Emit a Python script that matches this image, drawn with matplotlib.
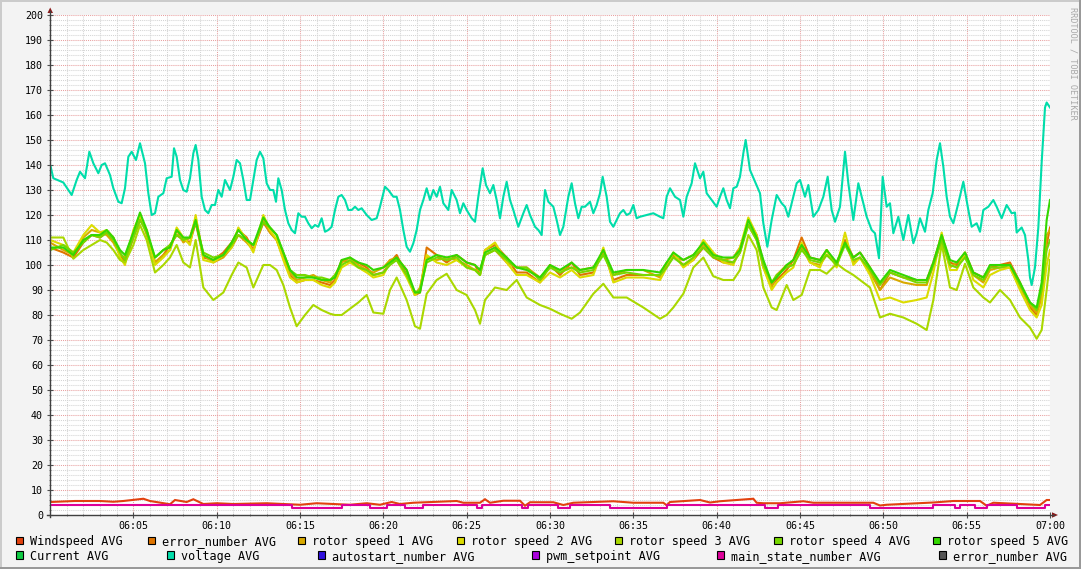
import matplotlib
matplotlib.use("Agg")
import matplotlib.pyplot as plt
from matplotlib.patches import Rectangle, Polygon
from matplotlib.lines import Line2D

# ---------------- data (time in minutes after 06:00) ----------------
x_tick_minutes = [5, 10, 15, 20, 25, 30, 35, 40, 45, 50, 55, 60]
x_tick_labels = ["06:05", "06:10", "06:15", "06:20", "06:25", "06:30",
                 "06:35", "06:40", "06:45", "06:50", "06:55", "07:00"]

legend_names = ["Windspeed AVG", "error_number AVG", "rotor speed 1 AVG",
                "rotor speed 2 AVG", "rotor speed 3 AVG", "rotor speed 4 AVG",
                "rotor speed 5 AVG", "Current AVG", "voltage AVG",
                "autostart_number AVG", "pwm_setpoint AVG",
                "main_state_number AVG", "error_number AVG"]
legend_colors = ["#E2410E", "#DF7400", "#D8A900", "#DCDC00", "#AAD800",
                 "#77D800", "#33D800", "#10CC44", "#00DDAA", "#3010DD",
                 "#AA00DD", "#DD0099", "#555555"]

# voltage
volt_t = [0.04, 0.2, 0.8, 1.3, 1.6, 1.8, 2.1, 2.36, 2.6, 2.9, 3.1, 3.3, 3.6, 3.8, 4.1, 4.3, 4.5, 4.7, 4.9, 5.16,
          5.4, 5.7, 5.9, 6.1, 6.3, 6.5, 6.8, 7.0, 7.3, 7.44, 7.6, 7.8, 8.0, 8.2, 8.4, 8.6, 8.74, 8.9, 9.1, 9.3,
          9.5, 9.7, 9.9, 10.1, 10.3, 10.5, 10.8, 11.0, 11.2, 11.4, 11.6, 11.8, 12.0, 12.2, 12.4, 12.6, 12.8, 13.0,
          13.2, 13.4, 13.56, 13.7, 13.9, 14.1, 14.3, 14.5, 14.7, 14.9, 15.1, 15.3, 15.5, 15.7, 15.9, 16.1, 16.3,
          16.5, 16.7, 16.9, 17.1, 17.3, 17.5, 17.7, 17.9, 18.1, 18.3, 18.5, 18.7, 19.0, 19.2,
          19.3, 19.6, 19.8, 20.1, 20.3, 20.6, 20.8, 21.0, 21.2, 21.4, 21.6, 21.8, 22.0, 22.2, 22.4, 22.6, 22.8,
          23.0, 23.2, 23.4, 23.6, 23.9, 24.1, 24.4, 24.6, 24.8, 25.0, 25.3, 25.5, 25.7, 25.96, 26.16, 26.4, 26.6,
          26.8, 27.0, 27.2, 27.4, 27.6, 27.8, 28.1, 28.4, 28.6, 28.8, 29.1, 29.3, 29.5, 29.7, 29.9, 30.2, 30.4,
          30.6, 30.8, 31.1, 31.3, 31.5, 31.7, 31.9, 32.1, 32.4, 32.6, 32.8, 33.0, 33.16, 33.4, 33.6, 33.8, 34.0,
          34.2, 34.4, 34.6, 34.8, 35.0, 35.2, 35.4, 35.8, 36.2, 36.6, 36.8, 37.0, 37.2, 37.5, 37.8, 38.0, 38.2,
          38.5, 38.7,
          39.0, 39.2, 39.4, 39.7, 40.0, 40.2, 40.4, 40.6, 40.8, 41.0, 41.2, 41.4, 41.6, 41.74, 42.0, 42.3, 42.6,
          42.8, 43.04, 43.3, 43.6, 43.9, 44.1, 44.3, 44.6, 44.8, 45.0, 45.3, 45.5, 45.8, 46.1, 46.4, 46.66, 46.9,
          47.1, 47.4, 47.7, 47.9, 48.2, 48.5, 48.8, 49.0, 49.3, 49.5, 49.74, 49.96, 50.2, 50.4, 50.6, 50.9, 51.2,
          51.5, 51.8, 52.0, 52.2, 52.5, 52.7, 52.96, 53.2, 53.4, 53.6, 53.8, 54.0, 54.2, 54.5, 54.8, 55.1, 55.3,
          55.6, 55.8, 56.0, 56.3, 56.6, 56.8, 57.1, 57.4, 57.7, 57.9, 58.0, 58.3, 58.5, 58.7, 58.8, 58.9, 59.1,
          59.3, 59.5, 59.7, 59.8, 60.0]
volt_v = [139.3, 134.7, 133, 128, 134, 137.3, 134.7, 145.3, 140.7, 136.7, 140, 140.7, 136, 130.7, 125.3, 124.7,
          130.7, 143.3, 145.3, 142, 148.7, 140.7, 128.7, 120, 120.7, 127.3, 128.7, 134.7, 135.3, 146.7, 143.3,
          134, 130, 129.3, 134.7, 144.7, 148, 142, 127.3, 122, 120.7, 124, 124, 130, 127.3, 134, 130, 135.3, 142,
          140.7, 134, 126, 126, 134, 142, 145.3, 142.7, 132.7, 130, 130, 125.3, 134.7, 130, 122, 116.7, 114,
          112.7, 120.7, 119.3, 119.3, 116.7, 114.7, 116, 115.3, 118.7, 113.3, 114, 115.3, 122, 127.3, 128, 126,
          122, 122, 123.3, 122, 122.7, 120, 118.7,
          118, 118.7, 123.3, 131.3, 130, 127.3, 127.3, 122, 114, 107.3, 105.3, 108.7, 114, 122, 126, 130.7, 126,
          130, 127.3, 131.3, 124.7, 122, 130, 126, 120.7, 124.7, 122, 118.7, 117.3, 127.3, 138.7, 132, 128.7,
          132, 126, 118.7, 127.3, 133.3, 126, 122, 115.3, 120.7, 124, 120, 115.3, 114, 112, 130, 125.3, 123.3,
          118, 112, 115.3, 127.3, 132.7, 124.7, 118.7, 123.3, 123.3, 125.3, 120.7, 124, 128.7, 135.3, 127.3,
          117.3, 115.3, 118, 120.7, 122, 120, 120.7, 124, 118.7, 119.3, 120, 120.7, 119.3, 118.7, 127.3, 130.7,
          127.3, 126, 119.3, 127.3, 132.7, 140.7,
          134.7, 137.3, 128.7, 126, 123.3, 127.3, 130.7, 126, 122.7, 130.7, 131.3, 135.3, 144.7, 150, 138, 133.3,
          128.7, 116.7, 107.3, 118, 128, 124.7, 123.3, 119.3, 127.3, 132.7, 134, 127.3, 132, 119.3, 122, 127.3,
          135.3, 122, 117.3, 123.3, 145.3, 132.7, 118, 132.7, 124.7, 119.3, 114, 112.7, 102.7, 135.3, 123.3,
          124.7, 112.7, 119.3, 110, 120, 108.7, 112.7, 118.7, 113.3, 122, 128.7, 142, 148.7, 139.3, 127.3, 119.3,
          116.7, 124.7, 133.3, 122, 115.3, 116.7, 113.3, 122, 123.3, 126, 123.3, 118.7, 124, 120.7, 121, 113,
          115, 112, 102, 95, 92, 99, 115, 141, 163, 165, 163]

# rotor speeds / error_number share one time base
rot_t = [0, 0.8, 1.4, 2.0, 2.5, 3.0, 3.4, 3.8, 4.2, 4.5,
         5.0, 5.4, 5.8, 6.3, 6.8, 7.2, 7.6, 8.0, 8.4, 8.74,
         9.2, 9.8, 10.4, 10.9, 11.3, 11.8, 12.2, 12.8, 13.2, 13.6,
         14.0, 14.4, 14.8, 15.3, 15.8, 16.3, 16.8, 17.1, 17.5, 18.0,
         18.5, 19.0, 19.4, 20.0, 20.4, 20.8, 21.4, 21.9, 22.2, 22.6,
         23.2, 23.8, 24.4, 25.0, 25.5, 25.8, 26.1, 26.7, 27.4, 28.0,
         28.6, 29.4, 30.0, 30.6, 31.3, 31.8, 32.6, 33.2, 33.8, 34.6,
         35.6, 36.6, 37.0, 37.4, 38.0, 38.6, 39.2, 39.8, 40.4, 41.0,
         41.4, 41.9, 42.4, 42.8, 43.3, 43.6, 44.2, 44.6, 45.1, 45.6,
         46.2, 46.6, 47.2, 47.7, 48.2, 48.6, 49.2, 49.8, 50.4, 51.2,
         52.0, 52.6, 53.0, 53.5, 54.0, 54.4, 54.9, 55.4, 56.0, 56.4,
         57.0, 57.6, 58.2, 58.8, 59.2, 59.5, 59.8, 60.0]
error_v = [107, 105, 103, 109, 112, 111, 113, 111, 104, 101,
           111, 118, 114, 101, 104, 108, 112, 110, 109, 117,
           103, 102, 105, 109, 114, 111, 106, 117, 113, 110,
           103, 96, 93, 94, 94, 93, 92, 94, 102, 101,
           101, 99, 96, 97, 101, 104, 96, 88, 89, 107,
           104, 101, 104, 101, 100, 96, 106, 108, 103, 97,
           97, 93, 100, 96, 101, 96, 97, 106, 94, 96,
           96, 96, 100, 104, 100, 102, 107, 103, 101, 101,
           105, 118, 112, 101, 92, 94, 98, 102, 111, 103,
           102, 106, 100, 110, 103, 105, 99, 90, 97, 95,
           94, 94, 101, 112, 101, 100, 105, 97, 95, 99,
           100, 101, 93, 83, 80, 88, 108, 115]
rotor1_v = [109, 106, 104, 111, 114, 113, 112, 109, 104, 103,
            113, 120, 112, 101, 104, 106, 114, 109, 111, 119,
            104, 101, 103, 107, 112, 109, 106, 118, 113, 110,
            103, 97, 94, 95, 96, 94, 93, 96, 101, 103,
            100, 98, 97, 99, 102, 103, 98, 88, 91, 103,
            102, 103, 102, 100, 98, 98, 104, 106, 101, 99,
            99, 95, 99, 98, 99, 98, 99, 105, 96, 98,
            98, 95, 101, 103, 102, 104, 108, 104, 102, 103,
            107, 116, 110, 99, 91, 96, 100, 100, 107, 101,
            100, 104, 101, 109, 101, 103, 97, 90, 95, 93,
            92, 92, 100, 110, 99, 101, 104, 96, 93, 98,
            99, 99, 91, 84, 81, 87, 112, 114]
rotor2_v = [110, 108, 105, 112, 116, 113, 114, 111, 103, 100,
            114, 120, 114, 100, 103, 106, 115, 111, 108, 120,
            102, 101, 104, 107, 115, 110, 105, 120, 114, 110,
            102, 95, 93, 94, 94, 92, 91, 93, 99, 101,
            99, 97, 95, 96, 101, 102, 95, 88, 90, 104,
            101, 100, 102, 99, 98, 96, 106, 109, 101, 96,
            96, 93, 97, 95, 98, 95, 96, 107, 93, 95,
            95, 94, 99, 105, 99, 102, 110, 105, 101, 100,
            107, 119, 112, 99, 90, 93, 97, 99, 109, 101,
            99, 106, 99, 113, 100, 103, 96, 86, 87, 85,
            86, 87, 97, 113, 98, 98, 105, 94, 91, 96,
            98, 99, 90, 82, 79, 84, 100, 106]
rotor3_v = [111, 111, 102.5, 106, 108, 110, 109, 106, 102, 101,
            108, 116, 110, 97, 100, 103, 108, 101, 99, 110,
            91, 86, 89, 96, 101, 99, 91, 100, 100, 98,
            92, 83, 75.5, 80, 84, 82, 80.5, 80, 80, 82.5,
            85, 88, 81, 80.5, 90, 95, 86, 75.5, 74.5, 88.5,
            94, 96.5, 90, 88, 82, 76.5, 86, 91, 90, 94,
            87, 84, 82.5, 80.5, 78.5, 81, 88.5, 92.5, 87, 87,
            83, 78.5, 80, 83, 88.5, 99, 103, 95.5, 94, 94,
            98, 112, 106, 91, 83, 82, 92, 86, 88, 98,
            98, 96.5, 100.5, 98, 96, 94, 91, 79, 80.5, 79,
            76.5, 74, 86, 108.5, 91, 90, 100.5, 91, 87, 85,
            90, 86, 79, 75, 70.5, 74, 90, 102]
rotor4_v = [106, 108, 105, 109, 112, 111, 113, 110, 105, 102,
            111, 118, 113, 103, 106, 108, 112, 110, 111, 117,
            105, 103, 104, 108, 112, 110, 108, 117, 115, 112,
            105, 98, 96, 96, 95, 95, 94, 96, 100, 102,
            99, 98, 96, 97, 100, 102, 96, 89, 90, 101,
            103, 102, 103, 99, 98, 96, 104, 106, 102, 99,
            99, 94, 99, 97, 99, 97, 98, 104, 96, 97,
            96, 96, 99, 103, 100, 103, 107, 103, 102, 101,
            105, 116, 110, 100, 93, 96, 99, 100, 106, 102,
            101, 104, 100, 108, 102, 103, 98, 92, 97, 95,
            93, 93, 100, 110, 100, 99, 103, 96, 94, 99,
            99, 100, 92, 85, 82, 90, 106, 110]
rotor5_v = [107, 107, 104, 110, 112, 112, 114, 111, 106, 104,
            113, 121, 114, 103, 106, 107, 114, 111, 111, 118,
            104, 102, 104, 109, 114, 110, 108, 119, 115, 112,
            105, 98, 95, 95, 95, 94, 94, 95, 102, 103,
            101, 100, 98, 99, 101, 103, 98, 89, 89, 102,
            104, 103, 104, 101, 100, 98, 105, 107, 103, 99,
            98, 95, 100, 98, 101, 98, 99, 106, 97, 98,
            98, 97, 101, 105, 102, 104, 109, 104, 103, 103,
            106, 118, 111, 102, 93, 95, 100, 102, 108, 103,
            102, 106, 101, 109, 103, 105, 99, 93, 98, 96,
            94, 94, 101, 112, 102, 101, 105, 97, 95, 100,
            100, 100, 93, 85, 83, 93, 118, 126]

# windspeed
wind_t = [0, 1.5, 3.0, 3.8, 4.4, 5.6, 6.0, 7.2, 7.5, 8.2, 8.6, 9.2, 10.0, 11.0, 13.0, 15.0, 16.0, 18.0, 19.0,
          19.8, 20.5, 21.0, 21.8, 24.4, 24.8, 25.8, 26.1, 26.4, 27.2, 28.2, 28.5, 28.8, 30.2, 30.8, 31.4, 33.8,
          35.0, 36.8, 37.0, 37.2, 39.0, 39.6, 40.2, 42.2, 42.4, 42.8, 43.8, 45.2, 45.8, 46.2, 49.4, 49.8, 50.2,
          53.0, 54.2, 55.8, 56.2, 56.6, 58.2, 59.4, 59.8, 60.0]
wind_v = [5.2, 5.6, 5.6, 5.3, 5.6, 6.5, 5.6, 4.3, 6.0, 5.2, 6.3, 4.4, 4.7, 4.4, 4.7, 4.1, 4.7, 4.1, 4.7,
          4.1, 5.2, 4.4, 4.9, 5.6, 4.9, 4.9, 6.3, 4.9, 5.7, 5.7, 3.7, 5.1, 5.1, 4.0, 4.9, 5.5,
          4.9, 4.9, 3.9, 5.2, 6.0, 5.0, 5.5, 6.5, 4.9, 4.7, 4.7, 5.5, 4.9, 4.9, 4.9, 3.8, 4.1,
          5.0, 5.6, 5.6, 3.7, 4.9, 4.4, 4.0, 6.0, 6.0]

# main state number (step series)
state_t = [0, 14.5, 17.5, 19.2, 20.2, 21.3, 22.4, 25.6, 25.9, 28.3, 28.7, 30.5, 31.2, 33.6, 37.0, 42.9, 43.7,
           49.2, 53.0, 54.3, 54.6, 55.5, 56.2, 58.0, 59.7, 60.0]
state_v = [4, 3, 4, 3, 4, 3, 4, 3, 4, 3, 4, 3, 4, 3, 4, 3, 4,
           3, 4, 3, 4, 3, 4, 3, 4, 4]

# ---------------- figure ----------------
W, H = 1081, 569
fig = plt.figure(figsize=(W / 100, H / 100), dpi=100, facecolor="#f3f3f3")
plt.rcParams["font.family"] = ["DejaVu Sans Mono", "DejaVu Sans"]


def fx(px):
    return px / W


def fy(py):
    return 1 - py / H


# bevel frame
fig.add_artist(Rectangle((0, 1 - 2 / H), 1, 2 / H, transform=fig.transFigure, color="#cbcbcb", lw=0))
fig.add_artist(Rectangle((0, 0), 2 / W, 1, transform=fig.transFigure, color="#cbcbcb", lw=0))
fig.add_artist(Rectangle((0, 0), 1, 2 / H, transform=fig.transFigure, color="#999999", lw=0))
fig.add_artist(Rectangle((1 - 2 / W, 0), 2 / W, 1, transform=fig.transFigure, color="#999999", lw=0))

ax = fig.add_axes([fx(50), fy(515), fx(1050) - fx(50), fy(15) - fy(515)])
ax.set_facecolor("white")
ax.set_xlim(0, 60)
ax.set_ylim(0, 200)
ax.set_axisbelow(True)

ax.set_xticks(x_tick_minutes)
ax.set_xticklabels(x_tick_labels)
ax.set_xticks(range(0, 61), minor=True)
ax.set_yticks(range(0, 201, 10))
ax.set_yticks(range(0, 201, 2), minor=True)
ax.grid(which="minor", color="#d4d4d4", linestyle=(0, (1, 1)), linewidth=0.75)
ax.grid(which="major", color="#e8a0a0", linestyle=(0, (1, 1)), linewidth=0.75)
ax.tick_params(which="major", direction="inout", length=4, width=0.8, color="#505050",
               labelsize=7.2, labelcolor="#000000")
ax.tick_params(which="minor", direction="inout", length=2, width=0.6, color="#707070")
ax.tick_params(axis="y", pad=3)
ax.tick_params(axis="x", pad=2)
for s in ax.spines.values():
    s.set_visible(False)

lw = 1.5
ax.plot(wind_t, wind_v, color="#E2410E", lw=lw, solid_joinstyle="miter")
ax.plot(rot_t, error_v, color="#DF7400", lw=lw)
ax.plot(rot_t, rotor1_v, color="#D8A900", lw=lw)
ax.plot(rot_t, rotor2_v, color="#DCDC00", lw=lw)
ax.plot(rot_t, rotor3_v, color="#AAD800", lw=lw)
ax.plot(rot_t, rotor4_v, color="#77D800", lw=lw)
ax.plot(rot_t, rotor5_v, color="#33D800", lw=lw)
ax.plot(volt_t, volt_v, color="#00DDAA", lw=lw)
ax.step(state_t, state_v, where="post", color="#DD0099", lw=lw)

# axis lines with arrows
axis_col = "#404040"
arrow_col = "#8b1a1a"
fig.add_artist(Line2D([fx(50), fx(50)], [fy(517), fy(11)], color=axis_col, lw=1, transform=fig.transFigure))
fig.add_artist(Line2D([fx(47), fx(1054)], [fy(515), fy(515)], color=axis_col, lw=1, transform=fig.transFigure))
fig.add_artist(Polygon([(fx(47.5), fy(13)), (fx(53), fy(13)), (fx(50.2), fy(7.5))], closed=True,
                       transform=fig.transFigure, color=arrow_col, lw=0))
fig.add_artist(Polygon([(fx(1052), fy(512.3)), (fx(1052), fy(517.7)), (fx(1058), fy(515))], closed=True,
                       transform=fig.transFigure, color=arrow_col, lw=0))

# watermark
fig.text(fx(1073), fy(7), "RRDTOOL / TOBI OETIKER", rotation=270, ha="center", va="top",
         fontsize=6.1, color="#a8a8a8")

# legend
row1_x = [15, 147, 297, 456, 614, 774, 932]
row2_x = [15, 166, 317, 531, 716, 938]
rows = [(row1_x, 540.5, legend_names[:7], legend_colors[:7]),
        (row2_x, 555.0, legend_names[7:], legend_colors[7:])]
for xs, yc, names, cols in rows:
    for x0, name, col in zip(xs, names, cols):
        fig.add_artist(Rectangle((fx(x0 + 0.5), fy(yc + 3.8)), 7.5 / W, 7.5 / H, transform=fig.transFigure,
                                 facecolor=col, edgecolor="#000000", lw=0.8))
        fig.text(fx(x0 + 15), fy(yc), name, ha="left", va="center_baseline", fontsize=8.45, color="#000000")

fig.savefig("out.png", dpi=100, facecolor=fig.get_facecolor())
